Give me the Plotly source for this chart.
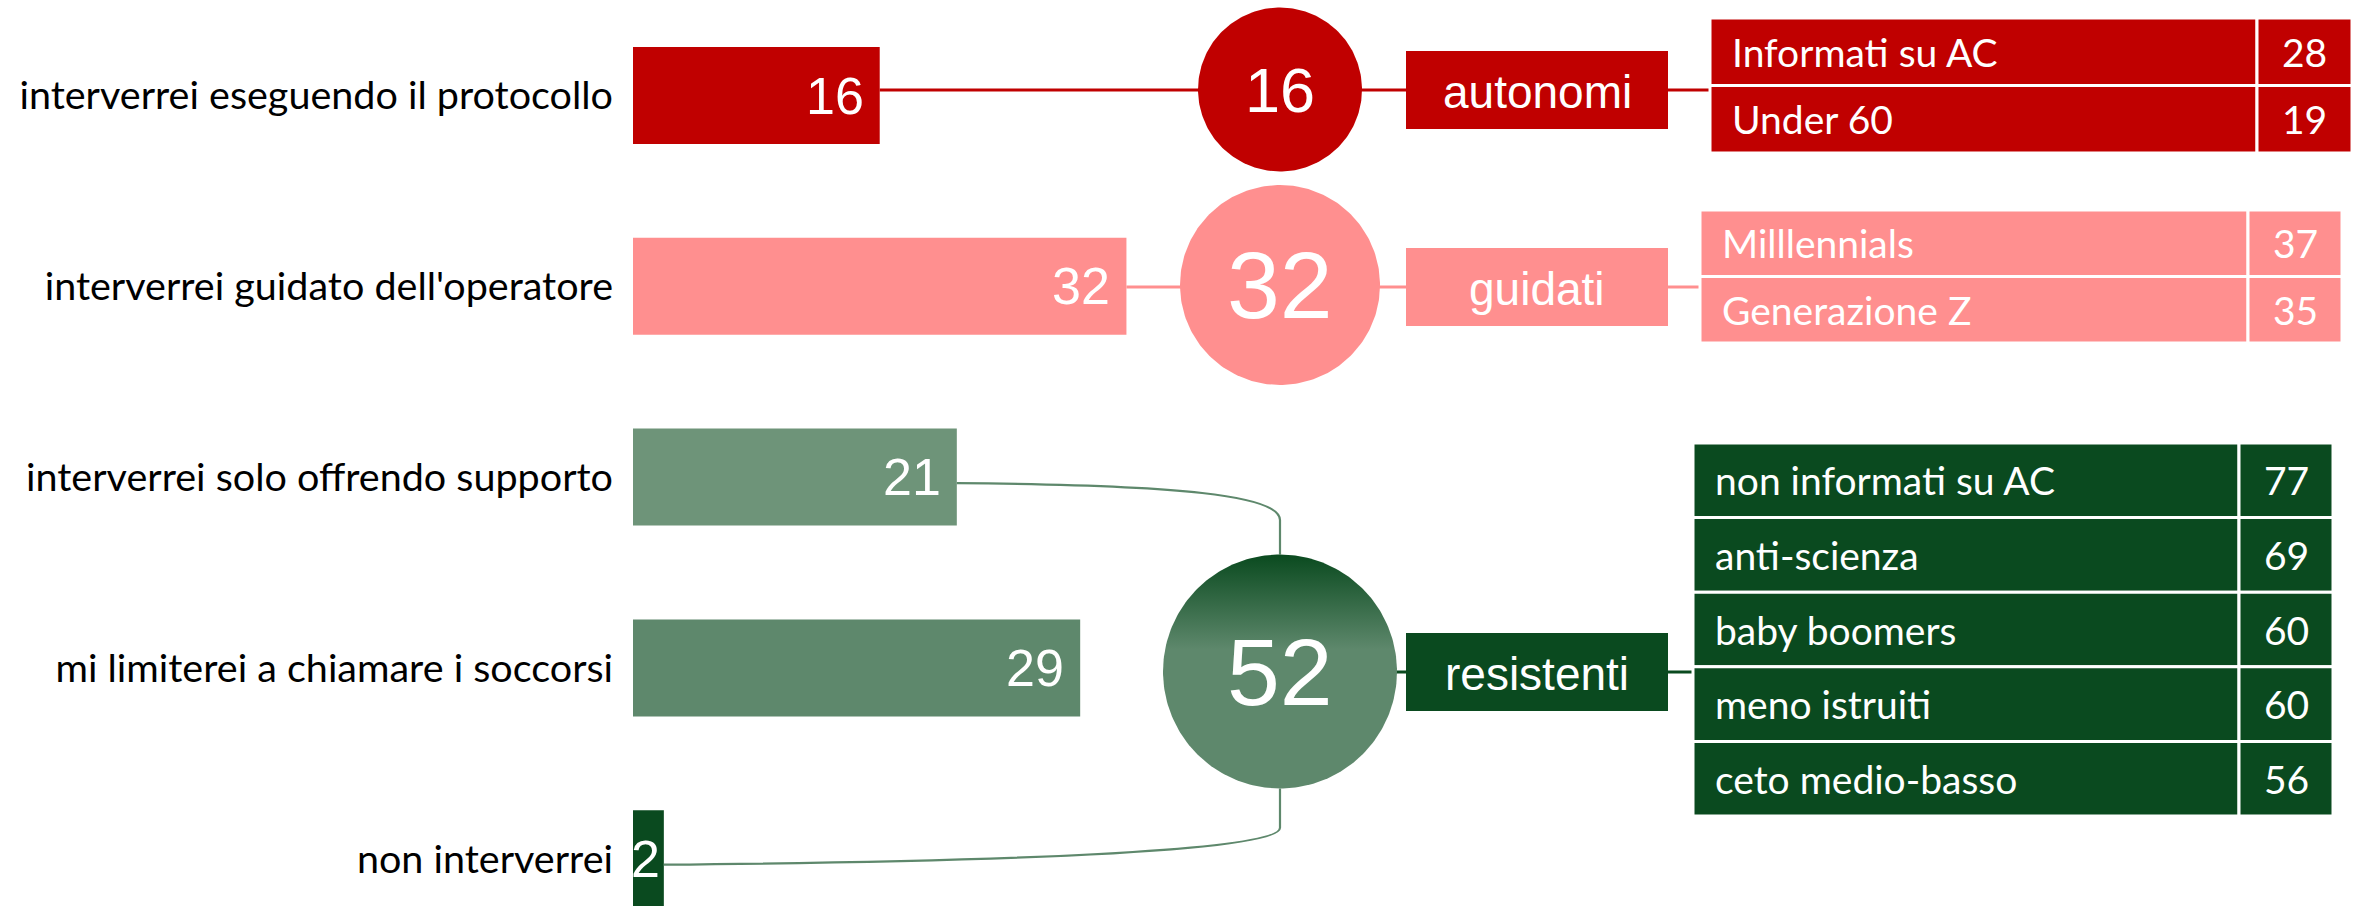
import numpy as np
import plotly.graph_objects as go

# ---------------- data ----------------
categories = [
    "interverrei eseguendo il protocollo",
    "interverrei guidato dell'operatore",
    "interverrei solo offrendo supporto",
    "mi limiterei a chiamare i soccorsi",
    "non interverrei",
]
values = [16, 32, 21, 29, 2]
category_group = ["autonomi", "guidati", "resistenti", "resistenti", "resistenti"]
groups = ["autonomi", "guidati", "resistenti"]

autonomi_profile = ["Informati su AC", "Under 60"]
autonomi_profile_values = [28, 19]
guidati_profile = ["Milllennials", "Generazione Z"]
guidati_profile_values = [37, 35]
resistenti_profile = ["non informati su AC", "anti-scienza", "baby boomers",
                      "meno istruiti", "ceto medio-basso"]
resistenti_profile_values = [77, 69, 60, 60, 56]

profiles = {
    "autonomi": (autonomi_profile, autonomi_profile_values),
    "guidati": (guidati_profile, guidati_profile_values),
    "resistenti": (resistenti_profile, resistenti_profile_values),
}
group_totals = {g: sum(v for v, cg in zip(values, category_group) if cg == g) for g in groups}

# ---------------- styles / geometry ----------------
W, H = 2366, 906
RED, PINK = "#C00000", "#FF8F8F"
GREEN_L, GREEN_M, GREEN_D = "#6E9479", "#5E886C", "#0A4A1F"
bar_colors = [RED, PINK, GREEN_L, GREEN_M, GREEN_D]

LABEL_FONT = "Lato, Calibri, Carlito, sans-serif"
NUM_FONT = "Liberation Sans, Arial, sans-serif"

BAR_X0 = 633      # px where value 0 sits
PXU = 15.42       # px per unit
ROW_Y0 = 95.5     # px centre of first row
ROW_STEP = 190.8  # px between rows
BAR_H = 97
CX = 1280


def vx(v):
    return BAR_X0 + v * PXU


def ry(i):
    return ROW_Y0 + i * ROW_STEP


style = {
    "autonomi": dict(color=RED, box_color=RED, line_color=RED, cy=89.5, r=82, num=63,
                     box=(1406, 1668, 51, 129), line_y=90,
                     table=(1710, 2352, 2257, 18, 153)),
    "guidati": dict(color=PINK, box_color=PINK, line_color=PINK, cy=285, r=100, num=95,
                    box=(1406, 1668, 248, 326), line_y=287,
                    table=(1700, 2342, 2248, 210, 343)),
    "resistenti": dict(color=GREEN_M, box_color=GREEN_D, line_color=GREEN_D, cy=671.5, r=117, num=95,
                       box=(1406, 1668, 633, 711), line_y=672,
                       table=(1693, 2333, 2239, 443, 816)),
}

fig = go.Figure()

# bars
fig.add_trace(go.Bar(
    x=values, y=categories, orientation="h",
    marker=dict(color=bar_colors, line=dict(width=0)),
    width=BAR_H / ROW_STEP,
    hoverinfo="skip", showlegend=False, xaxis="x", yaxis="y",
))

shapes = []
annotations = []

# bar value labels, right-aligned just inside the bar end
for v, c in zip(values, categories):
    pad = 14 if v * PXU > 80 else 2
    annotations.append(dict(x=v, y=c, xref="x", yref="y", text=str(v), xanchor="right",
                            xshift=-pad, showarrow=False,
                            font=dict(family=NUM_FONT, size=52, color="white")))

# connector lines (below circles)
first_idx = {g: category_group.index(g) for g in groups}
for g in ["autonomi", "guidati"]:
    s = style[g]
    i = first_idx[g]
    shapes.append(dict(type="line", xref="x2", yref="y2", layer="below",
                       x0=vx(values[i]), x1=s["table"][0], y0=s["line_y"], y1=s["line_y"],
                       line=dict(color=s["line_color"], width=3)))
s = style["resistenti"]
shapes.append(dict(type="line", xref="x2", yref="y2", layer="below",
                   x0=CX, x1=s["table"][0], y0=s["line_y"], y1=s["line_y"],
                   line=dict(color=s["line_color"], width=3)))
# curved connectors for the resistenti group
top_y = s["cy"] - s["r"]
bot_y = s["cy"] + s["r"]
y_a = ry(2) + 6
shapes.append(dict(type="path", xref="x2", yref="y2", layer="below",
                   path=f"M {vx(values[2])},{y_a} C 1180,{y_a + 2} {CX},{y_a + 12} {CX},{y_a + 37} L {CX},{top_y}",
                   line=dict(color=GREEN_M, width=2.2)))
y_b = ry(4) + 6
shapes.append(dict(type="path", xref="x2", yref="y2", layer="below",
                   path=f"M {vx(values[4])},{y_b} C 1000,{y_b - 3} {CX},{y_b - 13} {CX},{y_b - 37} L {CX},{bot_y}",
                   line=dict(color=GREEN_M, width=2.2)))

# circles
theta = np.linspace(0, 2 * np.pi, 241)
for g in groups:
    s = style[g]
    kw = {}
    if g == "resistenti":
        kw["fillgradient"] = dict(type="vertical",
                                  colorscale=[[0, GREEN_D], [1, GREEN_M]],
                                  start=s["cy"] - s["r"], stop=s["cy"] - 22)
    fig.add_trace(go.Scatter(
        x=CX + s["r"] * np.cos(theta), y=s["cy"] + s["r"] * np.sin(theta),
        mode="lines", line=dict(width=0), fill="toself", fillcolor=s["color"],
        hoverinfo="skip", showlegend=False, xaxis="x2", yaxis="y2", **kw))
    annotations.append(dict(x=CX, y=s["cy"], xref="x2", yref="y2", text=str(group_totals[g]),
                            showarrow=False, font=dict(family=NUM_FONT, size=s["num"], color="white")))
    # group box
    bx0, bx1, by0, by1 = s["box"]
    shapes.append(dict(type="rect", xref="x2", yref="y2", layer="above",
                       x0=bx0, x1=bx1, y0=by0, y1=by1,
                       fillcolor=s["box_color"], line=dict(width=0)))
    annotations.append(dict(x=(bx0 + bx1) / 2, y=(by0 + by1) / 2 + 2, xref="x2", yref="y2", text=g,
                            showarrow=False, font=dict(family=NUM_FONT, size=46, color="white")))
    # profile table
    tx0, tx1, txd, ty0, ty1 = s["table"]
    labels, vals = profiles[g]
    n = len(labels)
    rh = (ty1 - ty0) / n
    for k, (lab, val) in enumerate(zip(labels, vals)):
        y0 = ty0 + k * rh
        y1 = y0 + rh
        for (c0, c1) in [(tx0, txd), (txd, tx1)]:
            shapes.append(dict(type="rect", xref="x2", yref="y2", layer="above",
                               x0=c0, x1=c1, y0=y0, y1=y1,
                               fillcolor=s["box_color"], line=dict(color="white", width=3)))
        annotations.append(dict(x=tx0 + 20, y=(y0 + y1) / 2, xref="x2", yref="y2", text=lab,
                                xanchor="left", showarrow=False,
                                font=dict(family=LABEL_FONT, size=39, color="white")))
        annotations.append(dict(x=(txd + tx1) / 2, y=(y0 + y1) / 2, xref="x2", yref="y2", text=str(val),
                                xanchor="center", showarrow=False,
                                font=dict(family=LABEL_FONT, size=39, color="white")))

b = -ROW_Y0 / ROW_STEP
fig.update_layout(
    width=W, height=H,
    margin=dict(l=0, r=0, t=0, b=0),
    paper_bgcolor="white", plot_bgcolor="rgba(0,0,0,0)",
    showlegend=False,
    xaxis=dict(domain=[BAR_X0 / W, 1], range=[0, (W - BAR_X0) / PXU], visible=False, fixedrange=True),
    yaxis=dict(type="category", categoryorder="array", categoryarray=categories,
               range=[b + H / ROW_STEP, b], showgrid=False, zeroline=False, showline=False,
               ticks="", ticklabelstandoff=19,
               tickfont=dict(family=LABEL_FONT, size=39.5, color="black"), fixedrange=True),
    xaxis2=dict(domain=[0, 1], range=[0, W], visible=False, anchor="y2", fixedrange=True),
    yaxis2=dict(domain=[0, 1], range=[H, 0], visible=False, anchor="x2", fixedrange=True),
    shapes=shapes, annotations=annotations,
)

fig.write_html("out.html", config={"displayModeBar": False, "staticPlot": True},
               post_script="document.body.style.margin='0px';")
